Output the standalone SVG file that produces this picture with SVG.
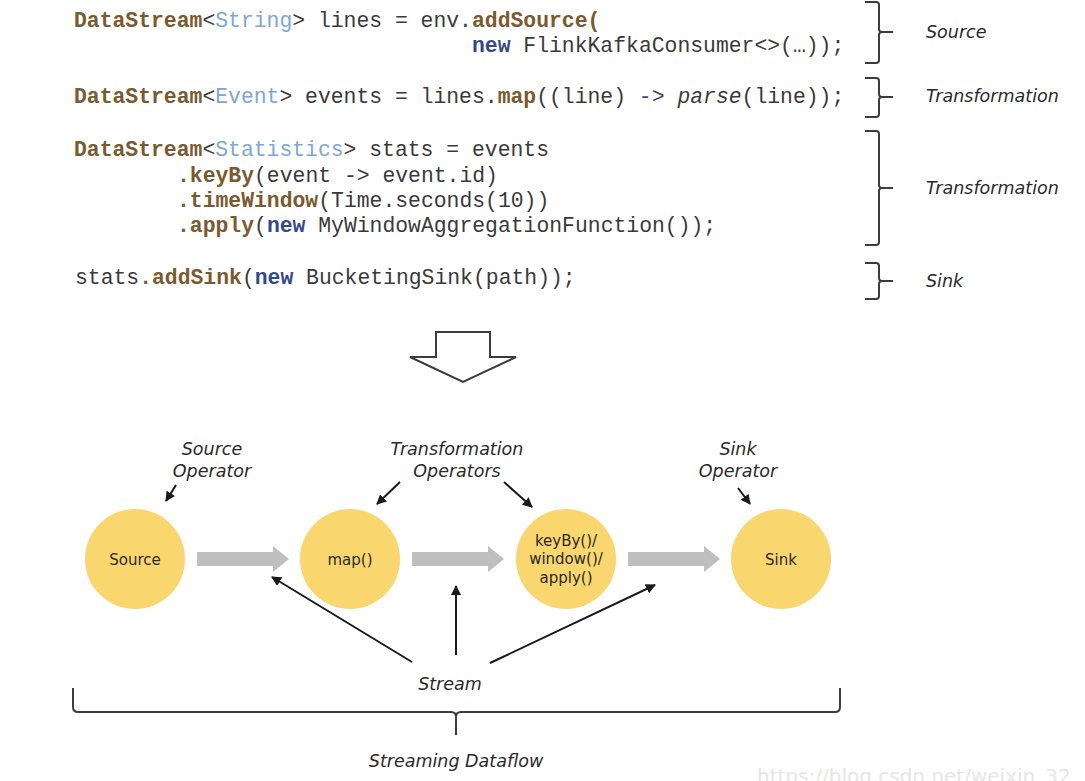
<svg xmlns="http://www.w3.org/2000/svg" width="1085" height="781" viewBox="0 0 1085 781">
<style>
.code{font-family:"Liberation Mono","Courier New",monospace;font-size:21.4px;fill:#3a3a3a}
.k{fill:#7a5a2e;font-weight:bold}
.t{fill:#7ea6d8}
.n{fill:#34498a;font-weight:bold}
.ar{fill:#34498a}
.it{font-style:italic}
.lbl{font-family:"DejaVu Sans",Verdana,sans-serif;font-style:italic;font-size:17.5px;fill:#2a2a2a}
.nd{font-family:"DejaVu Sans",Verdana,sans-serif;font-size:15px;fill:#2a2a2a;text-anchor:middle}
.brace{fill:none;stroke:#3c3c3c;stroke-width:2}
.circ{fill:#f9d66e}
.flow{fill:#bfbfbf}
.ptr{stroke:#1a1a1a;stroke-width:2;fill:none;marker-end:url(#ah)}
</style>
<defs>
<marker id="ah" viewBox="0 0 10 10" refX="9" refY="5" markerWidth="5" markerHeight="5" orient="auto" markerUnits="strokeWidth">
<path d="M0,0 L10,5 L0,10 z" fill="#1a1a1a"/>
</marker>
</defs>
<rect width="1085" height="781" fill="#ffffff"/>
<g id="code" xml:space="preserve">
<text class="code" x="74" y="27"><tspan class="k">DataStream</tspan>&lt;<tspan class="t">String</tspan>&gt; lines = env.<tspan class="k">addSource(</tspan></text>
<text class="code" x="472" y="52"><tspan class="n">new</tspan> FlinkKafkaConsumer&lt;&gt;(…));</text>
<text class="code" x="74" y="103"><tspan class="k">DataStream</tspan>&lt;<tspan class="t">Event</tspan>&gt; events = lines.<tspan class="k">map</tspan>((line) <tspan class="ar">-&gt;</tspan> <tspan class="it">parse</tspan>(line));</text>
<text class="code" x="74" y="156"><tspan class="k">DataStream</tspan>&lt;<tspan class="t">Statistics</tspan>&gt; stats = events</text>
<text class="code" x="177" y="182"><tspan class="k">.keyBy</tspan>(event -&gt; event.id)</text>
<text class="code" x="177" y="207"><tspan class="k">.timeWindow</tspan>(Time.seconds(10))</text>
<text class="code" x="177" y="232"><tspan class="k">.apply</tspan>(<tspan class="n">new</tspan> MyWindowAggregationFunction());</text>
<text class="code" x="75" y="284">stats<tspan class="k">.addSink</tspan>(<tspan class="n">new</tspan> BucketingSink(path));</text>
</g>
<g id="code-braces">
<path class="brace" d="M865,2 H876 Q879,2 879,5 V29 Q879,32 882,32 H893 M882,32 Q879,32 879,35 V60 Q879,63 876,63 H865"/>
<path class="brace" d="M865,78 H876 Q879,78 879,81 V94 Q879,97 882,97 H893 M882,97 Q879,97 879,100 V114 Q879,117 876,117 H865"/>
<path class="brace" d="M865,131 H876 Q879,131 879,134 V185 Q879,188 882,188 H893 M882,188 Q879,188 879,191 V242 Q879,245 876,245 H865"/>
<path class="brace" d="M865,263 H876 Q879,263 879,266 V278 Q879,281 882,281 H893 M882,281 Q879,281 879,284 V296 Q879,299 876,299 H865"/>
<text class="lbl" x="926" y="38">Source</text>
<text class="lbl" x="926" y="102">Transformation</text>
<text class="lbl" x="926" y="194">Transformation</text>
<text class="lbl" x="926" y="287">Sink</text>
</g>
<g id="down-arrow">
<path d="M436,332 H490 V357 H516 L463,382 L410,357 H436 Z" fill="#ffffff" stroke="#3c3c3c" stroke-width="2" stroke-linejoin="miter"/>
</g>
<g id="node-source">
<circle class="circ" cx="135" cy="559" r="50"/>
<text class="nd" x="135" y="565">Source</text>
</g>
<g id="node-map">
<circle class="circ" cx="350" cy="559" r="50"/>
<text class="nd" x="350" y="565">map()</text>
</g>
<g id="node-keyby">
<circle class="circ" cx="566" cy="559" r="50"/>
<text class="nd" x="566" y="546">keyBy()/</text>
<text class="nd" x="566" y="564">window()/</text>
<text class="nd" x="566" y="583">apply()</text>
</g>
<g id="node-sink">
<circle class="circ" cx="781" cy="559" r="50"/>
<text class="nd" x="781" y="565">Sink</text>
</g>
<g id="connectors">
<path class="flow" d="M197,552 H273 V546 L289,559 L273,572 V566 H197 Z"/>
<path class="flow" d="M412,552 H488 V546 L504,559 L488,572 V566 H412 Z"/>
<path class="flow" d="M628,552 H704 V546 L720,559 L704,572 V566 H628 Z"/>
<line class="ptr" x1="176" y1="485" x2="166" y2="501"/>
<line class="ptr" x1="400" y1="482" x2="377" y2="504"/>
<line class="ptr" x1="504" y1="482" x2="532" y2="507"/>
<line class="ptr" x1="738" y1="488" x2="750" y2="504"/>
<line class="ptr" x1="412" y1="662" x2="272" y2="577"/>
<line class="ptr" x1="456" y1="655" x2="456" y2="586"/>
<line class="ptr" x1="490" y1="663" x2="655" y2="585"/>
</g>
<g id="labels">
<text class="lbl" x="212" y="455" text-anchor="middle">Source</text>
<text class="lbl" x="212" y="477" text-anchor="middle">Operator</text>
<text class="lbl" x="457" y="455" text-anchor="middle">Transformation</text>
<text class="lbl" x="457" y="477" text-anchor="middle">Operators</text>
<text class="lbl" x="738" y="455" text-anchor="middle">Sink</text>
<text class="lbl" x="738" y="477" text-anchor="middle">Operator</text>
<text class="lbl" x="450" y="690" text-anchor="middle">Stream</text>
</g>
<g id="dataflow-brace">
<path class="brace" d="M73,688 V707 Q73,712 78,712 H451 Q456,712 456,717 V735 M456,717 Q456,712 461,712 H835 Q840,712 840,707 V688"/>
<text class="lbl" x="456" y="767" text-anchor="middle">Streaming Dataflow</text>
</g>
<text x="757" y="783" font-family="'DejaVu Sans',Verdana,sans-serif" font-size="20" fill="#e6e6e6">https://blog.csdn.net/weixin_32</text>
</svg>
